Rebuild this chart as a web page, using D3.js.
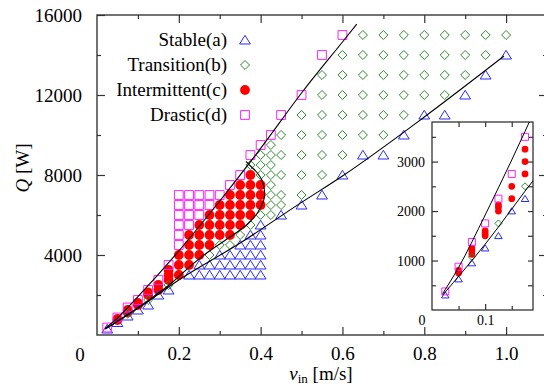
<!DOCTYPE html>
<html>
<head>
<meta charset="utf-8">
<script src="https://cdn.jsdelivr.net/npm/d3@7"></script>
<style>
  body { margin: 0; background: #fff; }
  text { font-family: "Liberation Serif", "Times New Roman", serif; }
</style>
</head>
<body>
<svg id="chart" width="544" height="384"></svg>
<script>
// ---- data (v_in [m/s], Q [W]) ----
const stable = [
  [0.025, 300], [0.05, 625], [0.075, 950], [0.1, 1250], [0.125, 1500], [0.15, 2000], [0.175, 2250],
  [0.225, 3000],
  [0.25, 3000], [0.25, 3500],
  [0.275, 3000], [0.275, 3500],
  [0.3, 3000], [0.3, 3500], [0.3, 4000],
  [0.325, 3000], [0.325, 3500], [0.325, 4000],
  [0.35, 3000], [0.35, 3500], [0.35, 4000], [0.35, 4500],
  [0.375, 3000], [0.375, 3500], [0.375, 4000], [0.375, 4500], [0.375, 5000],
  [0.4, 3000], [0.4, 3500], [0.4, 4000], [0.4, 4500], [0.4, 5000], [0.4, 5500],
  [0.45, 6000], [0.5, 6500], [0.55, 7000], [0.6, 8000], [0.65, 9000], [0.7, 9000],
  [0.75, 10000], [0.8, 11000], [0.85, 11000], [0.9, 12000], [0.95, 13000], [1.0, 14000]
];

const transition = [
  [0.075, 1075], [0.125, 1750], [0.175, 2500],
  [0.275, 4000], [0.3, 4500], [0.325, 4500], [0.35, 5000], [0.375, 5500], [0.4, 6000],
  [0.375, 8500], [0.4, 8000], [0.4, 8500], [0.4, 9000],
  [0.425, 6000], [0.425, 6500], [0.425, 7000], [0.425, 7500], [0.425, 8000], [0.425, 8500], [0.425, 9000], [0.425, 9500],
  [0.45, 6500], [0.45, 7000], [0.45, 8000], [0.45, 9000], [0.45, 10000],
  [0.5, 7000], [0.5, 8000], [0.5, 9000], [0.5, 10000], [0.5, 11000],
  [0.55, 8000], [0.55, 9000], [0.55, 10000], [0.55, 11000], [0.55, 12000], [0.55, 13000],
  [0.6, 9000], [0.6, 10000], [0.6, 11000], [0.6, 12000], [0.6, 13000], [0.6, 14000],
  [0.65, 10000], [0.65, 11000], [0.65, 12000], [0.65, 13000], [0.65, 14000], [0.65, 15000],
  [0.7, 10000], [0.7, 11000], [0.7, 12000], [0.7, 13000], [0.7, 14000], [0.7, 15000],
  [0.75, 11000], [0.75, 12000], [0.75, 13000], [0.75, 14000], [0.75, 15000],
  [0.8, 12000], [0.8, 13000], [0.8, 14000], [0.8, 15000],
  [0.85, 12000], [0.85, 13000], [0.85, 14000], [0.85, 15000],
  [0.9, 13000], [0.9, 14000], [0.9, 15000],
  [0.95, 14000], [0.95, 15000],
  [1.0, 15000]
];

const intermittent = [
  [0.05, 750], [0.05, 800],
  [0.075, 1125], [0.075, 1200], [0.075, 1250],
  [0.1, 1500], [0.1, 1550], [0.1, 1600],
  [0.125, 2000], [0.125, 2075], [0.125, 2125],
  [0.15, 2250], [0.15, 2500],
  [0.175, 2750], [0.175, 3000], [0.175, 3250],
  [0.2, 3000], [0.2, 3500], [0.2, 4000],
  [0.225, 3500], [0.225, 4000], [0.225, 4500], [0.225, 5000],
  [0.25, 4000], [0.25, 4500], [0.25, 5000], [0.25, 5500],
  [0.275, 4500], [0.275, 5000], [0.275, 5500], [0.275, 6000],
  [0.3, 5000], [0.3, 5500], [0.3, 6000], [0.3, 6500],
  [0.325, 5000], [0.325, 5500], [0.325, 6000], [0.325, 6500], [0.325, 7000],
  [0.35, 5500], [0.35, 6000], [0.35, 6500], [0.35, 7000], [0.35, 7500],
  [0.375, 6000], [0.375, 6500], [0.375, 7000], [0.375, 7500], [0.375, 8000],
  [0.4, 6500], [0.4, 7000], [0.4, 7500]
];

const drastic = [
  [0.025, 375], [0.05, 875], [0.075, 1375], [0.1, 1750], [0.125, 2250], [0.15, 2750], [0.175, 3500],
  [0.2, 4500], [0.2, 5000], [0.2, 5500], [0.2, 6000], [0.2, 6500], [0.2, 7000],
  [0.225, 5500], [0.225, 6000], [0.225, 6500], [0.225, 7000],
  [0.25, 6000], [0.25, 6500], [0.25, 7000],
  [0.275, 6500], [0.275, 7000],
  [0.3, 7000], [0.325, 7500], [0.35, 8000], [0.375, 9000], [0.4, 9500],
  [0.425, 10000], [0.45, 11000], [0.5, 12000], [0.55, 14000], [0.6, 15000]
];

// boundary lines
const upperBound = [[0.02, 330], [0.05, 860], [0.1, 1920], [0.2, 4200], [0.3, 6700], [0.4, 9330], [0.5, 12100], [0.6, 14650], [0.635, 15540]];
const lowerBound = [[0.02, 300], [0.1, 1330], [0.2, 2750], [0.35, 4600], [0.5, 6630], [0.6, 7950], [0.8, 10900], [0.995, 13950]];
const intermBound = [[0.02, 300], [0.1, 1360], [0.18, 2560], [0.227, 3420], [0.268, 4100], [0.325, 4900], [0.366, 5500],
  [0.392, 6100], [0.407, 6700], [0.41, 7100], [0.403, 7750], [0.39, 8150], [0.375, 8450], [0.364, 8680]];

const legendLabels = ['Stable(a)', 'Transition(b)', 'Intermittent(c)', 'Drastic(d)'];
const xMajor = [0.2, 0.4, 0.6, 0.8, 1.0];
const xMinor = [0.1, 0.3, 0.5, 0.7, 0.9];
const yMajor = [4000, 8000, 12000, 16000];
const yMinor = [2000, 6000, 10000, 14000];
const ixMajor = [0.1];
const ixMinor = [0.05, 0.15];
const iyMajor = [1000, 2000, 3000];
const iyMinor = [500, 1500, 2500, 3500];

// ---- drawing ----
const svg = d3.select('#chart');
const FONT = '"Liberation Serif", "Times New Roman", serif';

const x = d3.scaleLinear().domain([0, 1.1]).range([97, 547]);
const y = d3.scaleLinear().domain([0, 16000]).range([335, 15]);

const styles = {
  stable: { kind: 'triangle', color: '#2b2bf0' },
  transition: { kind: 'diamond', color: '#2e8b2e' },
  intermittent: { kind: 'circle', color: '#ff0000' },
  drastic: { kind: 'square', color: '#ff22ff' }
};

function shape(kind, s) {
  if (kind === 'square') return `M${-s},${-s}h${2 * s}v${2 * s}h${-2 * s}Z`;
  if (kind === 'diamond') return `M0,${-s * 1.1}L${s * 1.1},0L0,${s * 1.1}L${-s * 1.1},0Z`;
  if (kind === 'triangle') return `M0,${-s}L${s * 1.15},${s * 0.85}L${-s * 1.15},${s * 0.85}Z`;
  return d3.arc()({ innerRadius: 0, outerRadius: s, startAngle: 0, endAngle: 2 * Math.PI });
}

function drawMarkers(g, data, st, xs, ys, s) {
  g.selectAll(null).data(data).enter().append('path')
    .attr('transform', d => `translate(${xs(d[0])},${ys(d[1])})`)
    .attr('d', shape(st.kind, s))
    .attr('fill', st.kind === 'circle' ? st.color : 'none')
    .attr('stroke', st.kind === 'circle' ? 'none' : st.color)
    .attr('stroke-width', 1);
}

function styleAxis(g, size) {
  g.select('.domain').remove();
  g.selectAll('line').attr('stroke', '#333').attr('stroke-width', 1.2);
  g.attr('font-family', FONT).attr('font-size', size);
  g.selectAll('text').attr('fill', '#000');
}

const fmtInt = d3.format('d');

// frame
svg.append('rect')
  .attr('x', x(0)).attr('y', y(16000))
  .attr('width', x(1.1) - x(0)).attr('height', y(0) - y(16000))
  .attr('fill', 'none').attr('stroke', '#444').attr('stroke-width', 1.5);

// axes: inward ticks on all four sides
svg.append('g').attr('transform', `translate(0,${y(0)})`)
  .call(d3.axisBottom(x).tickValues(xMajor).tickSizeInner(-8).tickSizeOuter(0).tickPadding(12).tickFormat(d3.format('.1f')))
  .call(g => styleAxis(g, 19));
svg.append('g').attr('transform', `translate(0,${y(0)})`)
  .call(d3.axisBottom(x).tickValues(xMinor).tickSizeInner(-4).tickSizeOuter(0).tickFormat(''))
  .call(g => styleAxis(g, 19));
svg.append('g').attr('transform', `translate(0,${y(16000)})`)
  .call(d3.axisTop(x).tickValues(xMajor).tickSizeInner(-8).tickSizeOuter(0).tickFormat(''))
  .call(g => styleAxis(g, 19));
svg.append('g').attr('transform', `translate(0,${y(16000)})`)
  .call(d3.axisTop(x).tickValues(xMinor).tickSizeInner(-4).tickSizeOuter(0).tickFormat(''))
  .call(g => styleAxis(g, 19));
svg.append('g').attr('transform', `translate(${x(0)},0)`)
  .call(d3.axisLeft(y).tickValues(yMajor).tickSizeInner(-8).tickSizeOuter(0).tickPadding(15).tickFormat(fmtInt))
  .call(g => styleAxis(g, 19));
svg.append('g').attr('transform', `translate(${x(0)},0)`)
  .call(d3.axisLeft(y).tickValues(yMinor).tickSizeInner(-4).tickSizeOuter(0).tickFormat(''))
  .call(g => styleAxis(g, 19));
svg.append('g').attr('transform', `translate(${x(1.1)},0)`)
  .call(d3.axisRight(y).tickValues(yMajor.slice(0, 3)).tickSizeInner(-8).tickSizeOuter(0).tickFormat(''))
  .call(g => styleAxis(g, 19));
svg.append('g').attr('transform', `translate(${x(1.1)},0)`)
  .call(d3.axisRight(y).tickValues(yMinor).tickSizeInner(-4).tickSizeOuter(0).tickFormat(''))
  .call(g => styleAxis(g, 19));

// origin label
svg.append('text').attr('x', x(0) - 17).attr('y', y(0) + 19)
  .attr('dy', '0.35em').attr('text-anchor', 'middle')
  .attr('font-family', FONT).attr('font-size', 19).text('0');

// axis titles
const yt = svg.append('text')
  .attr('transform', 'translate(29,168) rotate(-90)')
  .attr('text-anchor', 'middle').attr('font-family', FONT).attr('font-size', 19);
yt.append('tspan').attr('font-style', 'italic').text('Q');
yt.append('tspan').text(' [W]');

const xt = svg.append('text')
  .attr('x', 321).attr('y', 380)
  .attr('text-anchor', 'middle').attr('font-family', FONT).attr('font-size', 19);
xt.append('tspan').attr('font-style', 'italic').text('v');
xt.append('tspan').attr('font-size', 13).attr('dy', 3).text('in');
xt.append('tspan').attr('dy', -3).text(' [m/s]');

// markers (main)
const gm = svg.append('g');
drawMarkers(gm, intermittent, styles.intermittent, x, y, 4.9);
drawMarkers(gm, stable, styles.stable, x, y, 4.7);
drawMarkers(gm, transition, styles.transition, x, y, 4.1);
drawMarkers(gm, drastic, styles.drastic, x, y, 4.4);

// boundary lines (main)
const line = d3.line().x(d => x(d[0])).y(d => y(d[1])).curve(d3.curveMonotoneX);
const lineC = d3.line().x(d => x(d[0])).y(d => y(d[1])).curve(d3.curveCatmullRom);
[upperBound, lowerBound].forEach(b => svg.append('path').attr('d', line(b))
  .attr('fill', 'none').attr('stroke', '#000').attr('stroke-width', 1.1));
svg.append('path').attr('d', lineC(intermBound))
  .attr('fill', 'none').attr('stroke', '#000').attr('stroke-width', 1.1);

// legend
const lg = svg.append('g');
legendLabels.forEach((lab, i) => {
  const st = [styles.stable, styles.transition, styles.intermittent, styles.drastic][i];
  const yy = 40 + i * 25;
  lg.append('text').attr('x', 227).attr('y', yy).attr('dy', '0.33em')
    .attr('text-anchor', 'end').attr('font-family', FONT).attr('font-size', 19).text(lab);
  const s = { triangle: 4.7, diamond: 4.1, circle: 4.9, square: 4.4 }[st.kind];
  drawMarkers(lg, [[0, 0]], st, () => 245, () => yy, s);
});

// ---- inset ----
const xi = d3.scaleLinear().domain([0, 0.19]).range([432, 533]);
const yi = d3.scaleLinear().domain([0, 3800]).range([310, 122]);
const inset = svg.append('g');
inset.append('rect')
  .attr('x', xi(0)).attr('y', yi(3800))
  .attr('width', xi(0.19) - xi(0)).attr('height', yi(0) - yi(3800))
  .attr('fill', '#fff').attr('stroke', '#222').attr('stroke-width', 1.2);

svg.append('clipPath').attr('id', 'insetClip').append('rect')
  .attr('x', xi(0)).attr('y', yi(3800))
  .attr('width', xi(0.19) - xi(0)).attr('height', yi(0) - yi(3800));

inset.append('g').attr('transform', `translate(0,${yi(0)})`)
  .call(d3.axisBottom(xi).tickValues(ixMajor).tickSizeInner(-6).tickSizeOuter(0).tickPadding(5).tickFormat(d3.format('.1f')))
  .call(g => styleAxis(g, 14));
inset.append('g').attr('transform', `translate(0,${yi(0)})`)
  .call(d3.axisBottom(xi).tickValues(ixMinor).tickSizeInner(-4).tickSizeOuter(0).tickFormat(''))
  .call(g => styleAxis(g, 14));
inset.append('g').attr('transform', `translate(0,${yi(3800)})`)
  .call(d3.axisTop(xi).tickValues(ixMajor.concat(ixMinor)).tickSizeInner(-5).tickSizeOuter(0).tickFormat(''))
  .call(g => styleAxis(g, 14));
inset.append('g').attr('transform', `translate(${xi(0)},0)`)
  .call(d3.axisLeft(yi).tickValues(iyMajor).tickSizeInner(-6).tickSizeOuter(0).tickPadding(7).tickFormat(fmtInt))
  .call(g => styleAxis(g, 14));
inset.append('g').attr('transform', `translate(${xi(0)},0)`)
  .call(d3.axisLeft(yi).tickValues(iyMinor).tickSizeInner(-4).tickSizeOuter(0).tickFormat(''))
  .call(g => styleAxis(g, 14));
inset.append('g').attr('transform', `translate(${xi(0.19)},0)`)
  .call(d3.axisRight(yi).tickValues(iyMajor.concat(iyMinor)).tickSizeInner(-5).tickSizeOuter(0).tickFormat(''))
  .call(g => styleAxis(g, 14));
inset.append('text').attr('x', xi(0) - 10).attr('y', yi(0) + 10)
  .attr('dy', '0.35em').attr('text-anchor', 'middle')
  .attr('font-family', FONT).attr('font-size', 14).text('0');

const inRange = d => d[0] <= 0.19 && d[1] <= 3800;
const gi = inset.append('g');
drawMarkers(gi, intermittent.filter(inRange), styles.intermittent, xi, yi, 3.4);
drawMarkers(gi, stable.filter(inRange), styles.stable, xi, yi, 3.3);
drawMarkers(gi, transition.filter(inRange), styles.transition, xi, yi, 3.2);
drawMarkers(gi, drastic.filter(inRange), styles.drastic, xi, yi, 3.5);

const linei = d3.line().x(d => xi(d[0])).y(d => yi(d[1])).curve(d3.curveMonotoneX);
[upperBound, lowerBound].forEach(b => inset.append('path').attr('d', linei(b))
  .attr('clip-path', 'url(#insetClip)')
  .attr('fill', 'none').attr('stroke', '#000').attr('stroke-width', 1));
</script>
</body>
</html>
